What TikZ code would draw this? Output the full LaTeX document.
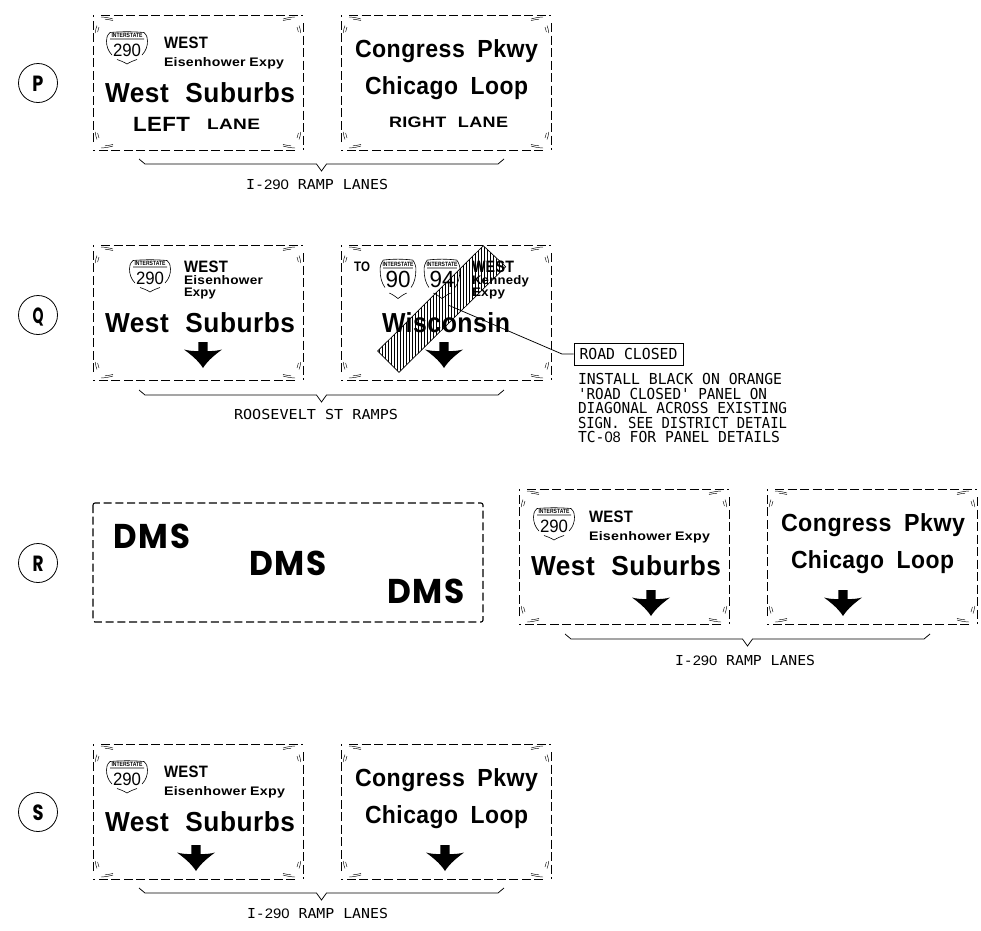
\documentclass[tikz,border=0pt]{standalone}
\usepackage{fontspec}
\usepackage{graphicx}
\newfontfamily\sgn[LetterSpace=2]{Liberation Sans}
\newfontfamily\cad{DejaVu Sans Mono}
\newfontfamily\plainf{Liberation Sans}
\newfontfamily\dmsf[LetterSpace=6]{Poppins}
\newfontfamily\badgef{Poppins}
\newcount\tcnt
\newcommand\fitbox[3]{\resizebox{#1pt}{#2pt}{\raisebox{0pt}[8pt][0pt]{#3}}}
% font x-left y-center width height text
\newcommand\T[6]{\global\advance\tcnt by 1
  \node[txt,name=t\the\tcnt] at (#2,#3) {\fontsize{11}{11}#1\selectfont\fitbox{#4}{#5}{#6}};}
\newcommand\SB{\sgn\bfseries}
\newcommand\CD{\cad}
\newcommand\dg[1]{{\plainf #1}}
\newcommand\signcorner[3]{% x y, signs sx,sy as #3
  \begin{scope}[shift={(#1,#2)},#3]
    \draw[fine] (2.2,18) .. controls (2.6,15) and (3,13) .. (4,10.5) (4.6,17) .. controls (5,15) and (5.4,14) .. (6,12);
    \draw[fine] (8,2) .. controls (12,2.2) and (16,2.8) .. (20,4) (12,4.2) .. controls (15,4.4) and (17,4.8) .. (20,5.6);
  \end{scope}}
\newcommand\signbox[2]{% x y of top-left; 210x135
  \draw[signdash] (#1+8,#2) -- (#1+210,#2);
  \draw[signdash] (#1+210,#2+8) -- (#1+210,#2+135);
  \draw[signdash] (#1+202,#2+135) -- (#1,#2+135);
  \draw[signdash] (#1,#2+127) -- (#1,#2);
  \signcorner{#1}{#2}{xscale=1,yscale=1}
  \signcorner{#1+210}{#2}{xscale=-1,yscale=1}
  \signcorner{#1}{#2+135}{xscale=1,yscale=-1}
  \signcorner{#1+210}{#2+135}{xscale=-1,yscale=-1}}
% cx top
\newcommand\dnarrow[2]{\begin{scope}[shift={(#1,#2)}]
  \fill (-4.6,0) -- (4.6,0) -- (4.6,9) .. controls (10,9.2) and (15,8.6) .. (19,7.5)
    .. controls (13,12) and (5,18) .. (0,26) .. controls (-5,18) and (-13,12) .. (-19,7.5)
    .. controls (-15,8.6) and (-10,9.2) .. (-4.6,9) -- cycle;
  \end{scope}}
% cx cy xscale yscale number width height
\newcommand\shield[7]{\begin{scope}[shift={(#1,#2)}]
  \begin{scope}[xscale=#3,yscale=#4]
  \draw[shieldline] (-17,-15.5) .. controls (-6,-16.5) and (6,-16.5) .. (17,-15.5) (-17,-9) -- (17,-9);
  \draw[shieldline] (-17,-15.5) .. controls (-19.5,-13) and (-21,-10) .. (-20.5,-7) .. controls (-20.5,-2) and (-19,3) .. (-15,7);
  \draw[shieldline] (17,-15.5) .. controls (19.5,-13) and (21,-10) .. (20.5,-7) .. controls (20.5,-2) and (19,3) .. (15,7);
  \draw[shieldline] (-10,11.5) .. controls (-7,12.5) and (-3,14) .. (0,16) .. controls (3,14) and (7,12.5) .. (10,11.5);
  \end{scope}
  \global\advance\tcnt by 1
  \node[txt,name=t\the\tcnt,anchor=center] at (0,{-12.5*#4}) {\fontsize{11}{11}\plainf\bfseries\selectfont\fitbox{31}{4.5}{INTERSTATE}};
  \global\advance\tcnt by 1
  \node[txt,name=t\the\tcnt,anchor=center] at (0,{1.5-(#4-1)*7}) {\fontsize{11}{11}\plainf\selectfont\fitbox{#6}{#7}{#5}};
  \end{scope}}
\newcommand\bracket[3]{\draw[thinl] (#1,#3) -- (#1+6,#3+5) -- ({(#1+#2)/2-5},#3+5) -- ({(#1+#2)/2},#3+12) -- ({(#1+#2)/2+5},#3+5) -- (#2-6,#3+5) -- (#2,#3);}
\newcommand\circled[3]{\node[badge,name=c#3] at (38,#2) {};
  \node[inner sep=0,name=cl#3] at (38,#2) {\fontsize{11}{11}\badgef\bfseries\selectfont\fitbox{11}{16}{#1}};}
\tikzset{
  x=1pt,y=-1pt,
  txt/.style={anchor=west,inner sep=0,outer sep=0},
  signdash/.style={line width=0.8pt,dash pattern=on 9pt off 3.5pt},
  fine/.style={line width=0.45pt},
  shieldline/.style={line width=0.6pt},
  thinl/.style={line width=0.75pt},
  badge/.style={draw,circle,line width=0.8pt,minimum size=39pt,inner sep=0},
}
\begin{document}
\begin{tikzpicture}
\useasboundingbox (0,0) rectangle (981,930);
% circles
\circled{P}{83}{P}\circled{Q}{315}{Q}\circled{R}{563}{R}\circled{S}{812}{S}
% P row
\signbox{93}{15}\signbox{341}{15}
\shield{127}{48}{1}{1}{290}{28}{13}
\T\SB{164}{42}{44}{12}{WEST}
\T\SB{164}{62}{120}{9}{Eisenhower\hspace{3pt}Expy}
\T\SB{105}{92}{190}{20}{West\hspace{7pt}Suburbs}
\T\SB{133}{124}{57}{15}{LEFT}
\T\SB{207}{124}{53}{11}{LANE}
\T\SB{355}{48}{183}{18}{Congress\hspace{6pt}Pkwy}
\T\SB{365}{85}{163}{18}{Chicago\hspace{6pt}Loop}
\T\SB{389}{122}{119}{11}{RIGHT\hspace{7pt}LANE}
\bracket{139}{504}{159}
\T\CD{246}{184}{142}{10}{I-\dg{290} RAMP LANES}
% Q row
\signbox{93}{245}\signbox{341}{245}
\shield{150}{276}{1}{1}{290}{28}{13}
\T\SB{184}{266}{44}{12}{WEST}
\T\SB{184}{280}{79}{9}{Eisenhower}
\T\SB{184}{292}{32}{9}{Expy}
\T\SB{105}{322}{190}{20}{West\hspace{7pt}Suburbs}
\dnarrow{203}{342}
\T\SB{354}{266}{16}{10}{TO}
\shield{398}{279}{0.87}{1.22}{90}{25}{17}
\shield{442}{279}{0.87}{1.22}{94}{25}{17}
\T\SB{472}{266}{42}{12}{WEST}
\T\SB{472}{280}{57}{9}{Kennedy}
\T\SB{472}{292}{33}{9}{Expy}
\T\SB{382}{322}{128}{20}{Wisconsin}
\dnarrow{444}{342}
% road closed panel
\begin{scope}
  \clip (483.3,245.7) -- (505.7,266.7) -- (399,372.3) -- (377.7,351) -- cycle;
  \foreach \xx in {376,379,...,508} \draw[line width=0.8pt] (\xx,240) -- (\xx,380);
\end{scope}
\draw[line width=0.7pt] (483.3,245.7) -- (505.7,266.7) -- (399,372.3) -- (377.7,351) -- cycle;
\coordinate (panel) at (448,305);
\coordinate (bend) at (562,354);
\node[draw,line width=0.8pt,minimum width=109pt,minimum height=22pt,inner sep=0,name=rc] at (628.5,354) {\fontsize{11}{11}\cad\selectfont\fitbox{98}{11}{ROAD CLOSED}};
\draw[thinl] (panel) -- (bend) -- (rc.west);
\T\CD{578}{379}{204}{11}{INSTALL BLACK ON ORANGE}
\T\CD{578}{394}{189}{11}{'ROAD CLOSED' PANEL ON}
\T\CD{578}{408}{209}{11}{DIAGONAL ACROSS EXISTING}
\T\CD{578}{423}{209}{11}{SIGN. SEE DISTRICT DETAIL}
\T\CD{578}{437}{202}{11}{TC-\dg{08} FOR PANEL DETAILS}
\bracket{139}{504}{390}
\T\CD{234}{414}{164}{10}{ROOSEVELT ST RAMPS}
% R row
\draw[line width=1.1pt,dash pattern=on 8pt off 3.7pt,rounded corners=2pt] (93,503) rectangle (483,622);
\T{\dmsf\bfseries}{113}{536}{77}{25}{DMS}
\T{\dmsf\bfseries}{249}{563}{78}{25}{DMS}
\T{\dmsf\bfseries}{387}{591}{78}{25}{DMS}
\signbox{519}{489}\signbox{767}{489}
\shield{554}{524}{1}{1}{290}{28}{13}
\T\SB{589}{516}{44}{12}{WEST}
\T\SB{589}{536}{121}{9}{Eisenhower\hspace{3pt}Expy}
\T\SB{531}{565}{190}{20}{West\hspace{7pt}Suburbs}
\dnarrow{651}{590}
\T\SB{781}{522}{184}{18}{Congress\hspace{6pt}Pkwy}
\T\SB{791}{559}{163}{18}{Chicago\hspace{6pt}Loop}
\dnarrow{843}{590}
\bracket{565}{930}{634}
\T\CD{675}{660}{140}{10}{I-\dg{290} RAMP LANES}
% S row
\signbox{93}{744}\signbox{341}{744}
\shield{127}{777}{1}{1}{290}{28}{13}
\T\SB{164}{771}{44}{12}{WEST}
\T\SB{164}{791}{121}{9}{Eisenhower\hspace{3pt}Expy}
\T\SB{105}{821}{190}{20}{West\hspace{7pt}Suburbs}
\dnarrow{196}{845}
\T\SB{355}{777}{183}{18}{Congress\hspace{6pt}Pkwy}
\T\SB{365}{814}{163}{18}{Chicago\hspace{6pt}Loop}
\dnarrow{445}{845}
\bracket{139}{504}{888}
\T\CD{247}{913}{141}{10}{I-\dg{290} RAMP LANES}
\end{tikzpicture}
\end{document}
